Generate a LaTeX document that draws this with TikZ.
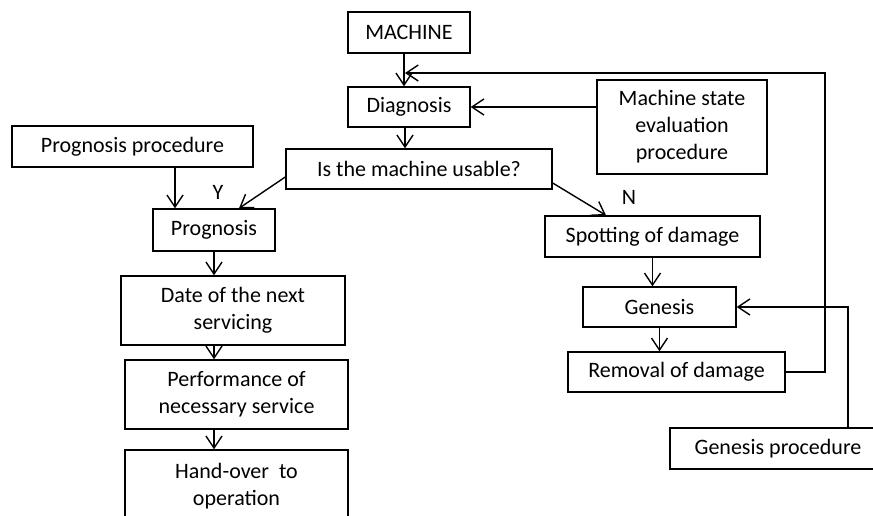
\documentclass[tikz,border=0pt]{standalone}
\usepackage{fontspec}
\setmainfont{Carlito}
\usetikzlibrary{calc,arrows.meta}
\tikzset{
  mybox/.style={draw, line width=1.4pt, align=center, inner sep=0pt,
    font=\fontsize{22}{27}\selectfont},
  myarr/.style={-{Straight Barb[length=12pt,width=16pt]}, line width=1.4pt},
  mylbl/.style={font=\fontsize{22}{27}\selectfont, inner sep=0pt},
}
\begin{document}
\begin{tikzpicture}[x=1pt,y=-1pt]
\useasboundingbox (0,0) rectangle (873,515);
\node[mybox, minimum width=122pt, minimum height=41pt] (machine) at (409,32.5) {MACHINE};
\node[mybox, minimum width=122pt, minimum height=40pt] (diag) at (409,107) {Diagnosis};
\node[mybox, minimum width=170pt, minimum height=94pt] (mse) at (682,127)
  {Machine state\\evaluation\\procedure};
\node[mybox, minimum width=241pt, minimum height=41pt] (progproc) at (132.5,146.5)
  {Prognosis procedure};
\node[mybox, minimum width=266pt, minimum height=40pt] (usable) at (419,169)
  {Is the machine usable?};
\node[mybox, minimum width=122pt, minimum height=42pt] (prog) at (214,230) {Prognosis};
\node[mybox, minimum width=215pt, minimum height=41pt] (spot) at (652.5,236.5)
  {Spotting of damage};
\node[mybox, minimum width=224pt, minimum height=69pt] (date) at (233,310.5)
  {Date of the next\\servicing};
\node[mybox, minimum width=223pt, minimum height=69pt] (perf) at (236.5,394.5)
  {Performance of\\necessary service};
\node[mybox, minimum width=223pt, minimum height=72pt] (hand) at (236.5,486)
  {Hand-over\ \ to\\operation};
\node[mybox, minimum width=153pt, minimum height=40pt] (genesis) at (659.5,307) {Genesis};
\node[mybox, minimum width=217pt, minimum height=40pt] (removal) at (676.5,372)
  {Removal of damage};
\node[mybox, minimum width=216pt, minimum height=41pt] (genproc) at (778,448.5)
  {Genesis procedure};
\node[mylbl] (ylbl) at (218,192) {Y};
\node[mylbl] (nlbl) at (629,197) {N};
\coordinate (fb) at (825,73);
\coordinate (loopin) at (405,73);
\coordinate (ppin) at ($(prog.north)+(-39,0)$);
% main line
\draw[myarr] ([xshift=-5pt]machine.south) -- ([xshift=-5pt]diag.north);
\draw[myarr] ([xshift=-4pt]diag.south) -- ([xshift=-4pt]diag.south |- usable.north);
\draw[myarr] (mse.west |- diag.east) -- (diag.east);
\draw[myarr] ([yshift=-8pt]usable.west) -- ([xshift=25pt]prog.north);
\draw[myarr] (progproc.south -| ppin) -- (ppin);
\draw[myarr] ([yshift=-14pt]usable.east) -- ([xshift=-46.5pt]spot.north);
% left branch
\draw[myarr] (prog.south) -- (prog.south |- date.north);
\draw[myarr] (date.south -| prog.south) -- (perf.north -| prog.south);
\draw[myarr] (perf.south -| prog.south) -- (hand.north -| prog.south);
% right branch
\draw[myarr] (spot.south) -- (spot.south |- genesis.north);
\draw[myarr] (genesis.south) -- (genesis.south |- removal.north);
\draw[myarr] ([xshift=70pt]genproc.north) |- (genesis.east);
\draw[myarr] (removal.east) -| (fb) -- (loopin);
\end{tikzpicture}
\end{document}
